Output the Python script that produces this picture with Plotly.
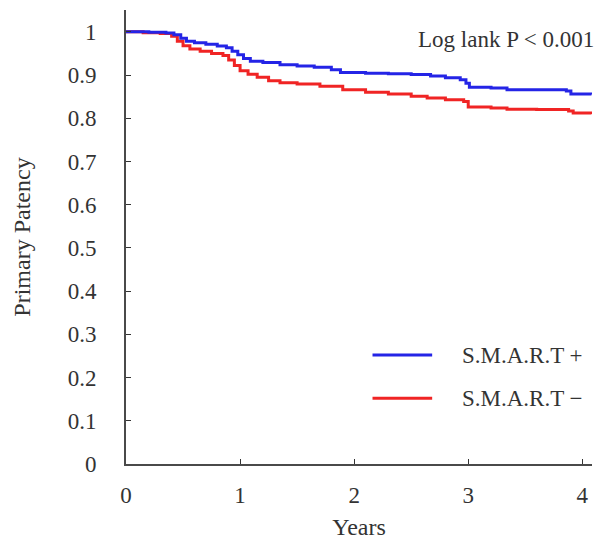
import plotly.graph_objects as go

# Kaplan-Meier estimates of primary patency by group
years_pos = [0, 0.2, 0.35, 0.42, 0.48, 0.53, 0.6, 0.7, 0.8, 0.88, 0.93, 0.98, 1.03, 1.09,
             1.2, 1.35, 1.5, 1.65, 1.8, 1.88, 2.1, 2.3, 2.5, 2.67, 2.8, 2.93, 2.98, 3.01,
             3.2, 3.34, 3.6, 3.86, 3.9, 4.08]
patency_pos = [1.0, 0.999, 0.997, 0.993, 0.985, 0.978, 0.975, 0.971, 0.967, 0.963, 0.955,
               0.947, 0.938, 0.932, 0.929, 0.924, 0.921, 0.918, 0.912, 0.906, 0.904, 0.903,
               0.901, 0.898, 0.894, 0.889, 0.881, 0.872, 0.870, 0.866, 0.866, 0.863, 0.856,
               0.855]

years_neg = [0, 0.15, 0.3, 0.4, 0.45, 0.5, 0.56, 0.65, 0.75, 0.85, 0.9, 0.95, 1.0, 1.07,
             1.15, 1.25, 1.35, 1.5, 1.7, 1.9, 2.1, 2.3, 2.5, 2.64, 2.8, 2.96, 3.0, 3.2,
             3.34, 3.6, 3.88, 3.92, 4.08]
patency_neg = [1.0, 0.998, 0.996, 0.99, 0.978, 0.968, 0.96, 0.955, 0.95, 0.945, 0.935,
               0.922, 0.91, 0.902, 0.895, 0.887, 0.882, 0.879, 0.874, 0.866, 0.86, 0.856,
               0.851, 0.847, 0.843, 0.839, 0.826, 0.824, 0.821, 0.82, 0.817, 0.812, 0.81]

group_labels = ["S.M.A.R.T +", "S.M.A.R.T \u2212"]
x_ticks = [0, 1, 2, 3, 4]
y_ticks = [0, 0.1, 0.2, 0.3, 0.4, 0.5, 0.6, 0.7, 0.8, 0.9, 1]
y_tick_text = ["0", "0.1", "0.2", "0.3", "0.4", "0.5", "0.6", "0.7", "0.8", "0.9", "1"]

BLUE = "#2424e6"
RED = "#f02424"
INK = "#333333"
FONT = "Liberation Serif"

fig = go.Figure()
fig.add_trace(go.Scatter(x=years_neg, y=patency_neg, mode="lines", line_shape="hv",
                         line=dict(color=RED, width=3), name=group_labels[1],
                         showlegend=False))
fig.add_trace(go.Scatter(x=years_pos, y=patency_pos, mode="lines", line_shape="hv",
                         line=dict(color=BLUE, width=3), name=group_labels[0],
                         showlegend=False))

# legend drawn as long line swatches with labels
legend_rows = [(group_labels[0], BLUE, 0.240), (group_labels[1], RED, 0.145)]
for label, color, yp in legend_rows:
    fig.add_shape(type="line", xref="paper", yref="paper",
                  x0=0.529, x1=0.657, y0=yp, y1=yp,
                  line=dict(color=color, width=3))
    fig.add_annotation(text=label, xref="paper", yref="paper", x=0.717, y=yp,
                       xanchor="left", yanchor="middle", showarrow=False,
                       font=dict(family=FONT, size=23, color=INK))

fig.add_annotation(text="Log lank P < 0.001", xref="paper", yref="paper",
                   x=1.008, y=0.935, xanchor="right", yanchor="middle", showarrow=False,
                   font=dict(family=FONT, size=23, color=INK))

fig.update_layout(
    width=611, height=540,
    margin=dict(l=126, r=19, t=10, b=76),
    paper_bgcolor="white", plot_bgcolor="white",
    font=dict(family=FONT, size=23, color=INK),
    xaxis=dict(range=[0, 4.085], tickvals=x_ticks, ticks="inside", ticklen=5,
               tickcolor=INK, showline=True, linecolor="#4a4a4a", linewidth=2,
               showgrid=False, zeroline=False, ticklabelstandoff=9, automargin=False,
               title=dict(text="Years", font=dict(size=24), standoff=13)),
    yaxis=dict(range=[0, 1.0505], tickvals=y_ticks, ticktext=y_tick_text,
               ticks="inside", ticklen=5, tickcolor=INK, showline=True,
               linecolor="#4a4a4a", linewidth=2, showgrid=False, zeroline=False,
               ticklabelstandoff=23, automargin=False,
               title=dict(text="Primary Patency", font=dict(size=24), standoff=30)),
)

fig.write_html("out.html")
